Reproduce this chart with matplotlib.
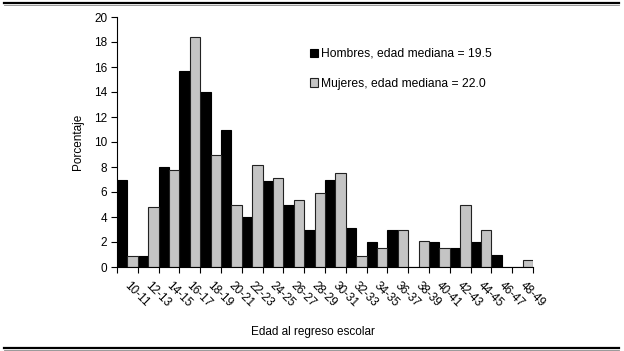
import matplotlib
matplotlib.use("Agg")
import matplotlib.pyplot as plt
import matplotlib.transforms as mtransforms
import numpy as np
from matplotlib.lines import Line2D
from matplotlib.patches import Patch

plt.rcParams['font.family'] = ['Liberation Sans', 'DejaVu Sans']

# age groups at return to school
grupos = ['10-11', '12-13', '14-15', '16-17', '18-19', '20-21', '22-23', '24-25',
          '26-27', '28-29', '30-31', '32-33', '34-35', '36-37', '38-39', '40-41',
          '42-43', '44-45', '46-47', '48-49']
hombres = [7.0, 0.9, 8.0, 15.7, 14.0, 11.0, 4.0, 6.9, 5.0, 3.0,
           7.0, 3.1, 2.0, 3.0, 0.0, 2.0, 1.5, 2.0, 1.0, 0.0]
mujeres = [0.9, 4.8, 7.8, 18.4, 9.0, 5.0, 8.2, 7.1, 5.4, 5.9,
           7.5, 0.9, 1.5, 3.0, 2.1, 1.5, 5.0, 3.0, 0.0, 0.6]
lbl_h = 'Hombres, edad mediana = 19.5'
lbl_m = 'Mujeres, edad mediana = 22.0'

W, H = 624, 351
fig = plt.figure(figsize=(W / 100, H / 100), dpi=100)
ax = fig.add_axes([117 / W, 1 - 267 / H, (533 - 117) / W, (267 - 17) / H])

x = np.arange(len(grupos))
w = 0.5
ax.bar(x - w / 2, hombres, w, color='black', edgecolor='black', linewidth=0.8)
ax.bar(x + w / 2, mujeres, w, color='#c4c4c4', edgecolor='#222222', linewidth=0.8)

ax.set_xlim(-0.5, len(grupos) - 0.5)
ax.set_ylim(0, 20)
ax.set_yticks(np.arange(0, 21, 2))
ax.tick_params(axis='y', direction='out', length=4, width=0.8, labelsize=8.5, pad=3)

# boundary ticks, labels at centre
ax.set_xticks(np.arange(-0.5, len(grupos), 1.0))
ax.set_xticklabels([])
ax.tick_params(axis='x', which='major', direction='out', length=4, width=0.8)
ax.set_xticks(x, minor=True)
ax.set_xticklabels(grupos, minor=True, rotation=-45, ha='left', va='top',
                   rotation_mode='anchor', fontsize=8.5)
ax.tick_params(axis='x', which='minor', length=0, pad=9)
shift = mtransforms.ScaledTranslation(3 / 100, 0, fig.dpi_scale_trans)
for t in ax.get_xticklabels(minor=True):
    t.set_transform(t.get_transform() + shift)

for s in ['top', 'right']:
    ax.spines[s].set_visible(False)
for s in ['left', 'bottom']:
    ax.spines[s].set_linewidth(0.8)

handles = [Patch(facecolor='black', edgecolor='black', linewidth=0.8),
           Patch(facecolor='#c4c4c4', edgecolor='#222222', linewidth=0.8)]
fig.legend(handles, [lbl_h, lbl_m], loc='upper left',
           bbox_to_anchor=(310 / W, 1 - 48 / H), frameon=False,
           fontsize=8.7, handlelength=0.7, handleheight=0.7,
           handletextpad=0.2, labelspacing=1.45, borderpad=0, borderaxespad=0)

fig.text(313 / W, 1 - 332 / H, 'Edad al regreso escolar', ha='center', va='center', fontsize=8.5)
fig.text(78 / W, 1 - 142 / H, 'Porcentaje', ha='center', va='center',
         rotation=90, fontsize=8.5)

# frame lines top and bottom
for yy in [3, 348]:
    fig.add_artist(Line2D([4 / W, 619 / W], [1 - yy / H] * 2, color='black', linewidth=1.6))
    fig.add_artist(Line2D([4 / W, 619 / W], [1 - (yy + 1.5) / H] * 2, color='#888888', linewidth=0.6))

fig.savefig('out.png', dpi=100)
